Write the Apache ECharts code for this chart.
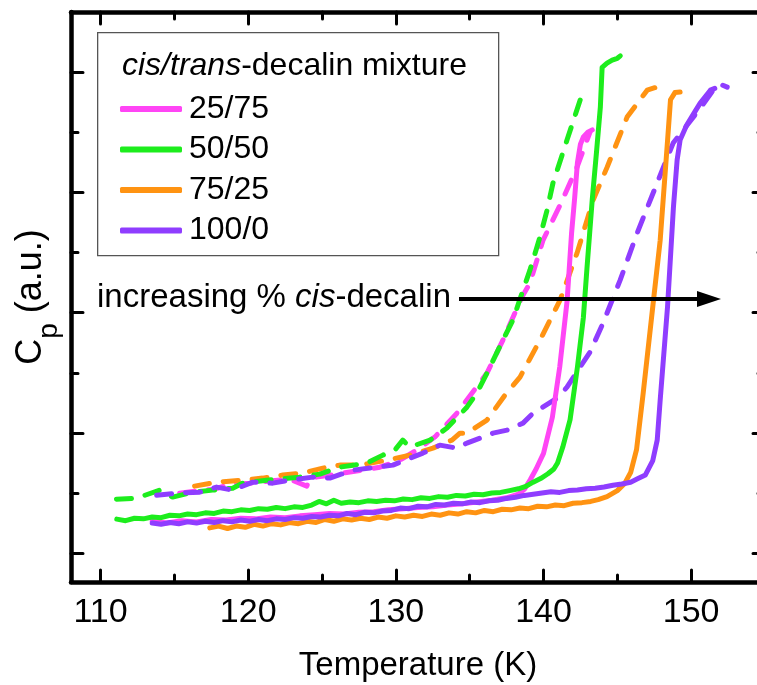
<!DOCTYPE html>
<html>
<head>
<meta charset="utf-8">
<script src="https://cdn.jsdelivr.net/npm/echarts@6/dist/echarts.min.js"></script>
<style>html,body{margin:0;padding:0;background:#fff}#c{width:757px;height:685px}</style>
</head>
<body>
<div id="c"></div>
<script>
// ---- data (T in K, Cp in arbitrary units) ----
var mixtures = ['25/75', '50/50', '75/25', '100/0'];
var colors = ['#ff45f5', '#1ded1d', '#ff9312', '#8f3dff'];
var xMajorTicks = [110, 120, 130, 140, 150];
var xMinorTicks = [115, 125, 135, 145];
var yMajorTicks = [1, 2, 3, 4, 5];
var yMinorTicks = [1.5, 2.5, 3.5, 4.5];

// solid curves
var heat2575 = [[113.5,1.265],[114.5,1.25],[115.5,1.27],[116.5,1.26],[117.5,1.28],[118.5,1.275],[119.5,1.29],[120.5,1.285],[121.5,1.30],[122.5,1.295],[123.5,1.31],[124.5,1.32],[125.5,1.33],[126.5,1.325],[127.5,1.34],[128.5,1.345],[129.5,1.36],[130.5,1.37],[131.5,1.38],[132.5,1.385],[133.5,1.40],[134.5,1.41],[135.5,1.425],[136.5,1.44],[137.5,1.46],[138.3,1.49],[138.7,1.53],[139.1,1.61],[139.5,1.70],[140.0,1.83],[140.6,2.13],[141.1,2.55],[141.6,3.10],[141.9,3.66],[142.1,3.94],[142.3,4.25],[142.5,4.40],[142.7,4.46],[143.0,4.50],[143.3,4.52]];
var heat5050 = [[111.1,1.283],[111.7,1.27],[112.3,1.29],[112.9,1.285],[113.5,1.30],[114.1,1.295],[114.7,1.315],[115.3,1.31],[115.9,1.325],[116.5,1.32],[117.1,1.335],[117.7,1.33],[118.3,1.35],[118.9,1.345],[119.5,1.36],[120.1,1.355],[120.7,1.37],[121.3,1.365],[121.9,1.38],[122.5,1.37],[123.1,1.385],[123.7,1.38],[124.3,1.40],[124.8,1.43],[125.3,1.41],[125.8,1.44],[126.3,1.415],[126.9,1.425],[127.5,1.42],[128.1,1.435],[128.7,1.43],[129.3,1.44],[129.9,1.435],[130.5,1.45],[131.1,1.445],[131.7,1.46],[132.3,1.455],[132.9,1.47],[133.5,1.465],[134.1,1.48],[134.7,1.475],[135.3,1.49],[135.9,1.485],[136.5,1.50],[137.1,1.505],[137.7,1.52],[138.3,1.535],[138.8,1.555],[139.3,1.59],[139.8,1.62],[140.3,1.66],[140.7,1.70],[140.95,1.75],[141.3,1.88],[141.8,2.11],[142.3,2.55],[142.7,2.96],[142.95,3.38],[143.3,3.94],[143.6,4.35],[143.85,4.71],[143.97,5.04],[144.3,5.075],[144.65,5.10],[145.0,5.115],[145.2,5.135]];
var heat7525 = [[117.4,1.21],[118.0,1.225],[118.6,1.205],[119.2,1.225],[119.8,1.215],[120.4,1.24],[121.0,1.225],[121.6,1.245],[122.2,1.235],[122.8,1.255],[123.4,1.245],[124.0,1.265],[124.6,1.255],[125.2,1.28],[125.8,1.265],[126.4,1.285],[127.0,1.275],[127.6,1.29],[128.2,1.28],[128.8,1.30],[129.4,1.29],[130.0,1.31],[130.6,1.30],[131.2,1.315],[131.8,1.305],[132.4,1.325],[133.0,1.315],[133.6,1.335],[134.2,1.325],[134.8,1.345],[135.4,1.335],[136.0,1.355],[136.6,1.345],[137.2,1.365],[137.8,1.36],[138.4,1.375],[139.0,1.37],[139.6,1.39],[140.2,1.385],[140.8,1.40],[141.4,1.395],[142.0,1.415],[142.6,1.42],[143.2,1.43],[143.7,1.445],[144.3,1.47],[145.0,1.52],[145.5,1.58],[145.9,1.67],[146.3,1.86],[146.75,2.33],[147.4,3.05],[147.9,3.60],[148.4,4.43],[148.6,4.77],[148.9,4.83],[149.25,4.835]];
var heat1000 = [[113.5,1.25],[114.1,1.24],[114.7,1.255],[115.3,1.245],[115.9,1.26],[116.5,1.25],[117.1,1.265],[117.7,1.255],[118.3,1.27],[118.9,1.26],[119.5,1.275],[120.1,1.265],[120.7,1.28],[121.3,1.27],[121.9,1.285],[122.5,1.28],[123.1,1.295],[123.7,1.29],[124.3,1.305],[124.9,1.30],[125.5,1.315],[126.1,1.31],[126.7,1.33],[127.3,1.32],[127.9,1.34],[128.5,1.335],[129.1,1.35],[129.7,1.355],[130.3,1.375],[130.9,1.37],[131.5,1.39],[132.1,1.385],[132.7,1.405],[133.3,1.40],[133.9,1.415],[134.5,1.41],[135.1,1.425],[135.7,1.42],[136.3,1.435],[136.9,1.44],[137.5,1.455],[138.1,1.465],[138.7,1.48],[139.3,1.49],[139.9,1.50],[140.5,1.51],[141.1,1.505],[141.7,1.52],[142.3,1.525],[142.9,1.535],[143.5,1.54],[144.1,1.55],[144.7,1.565],[145.3,1.575],[145.9,1.59],[146.4,1.62],[146.9,1.65],[147.4,1.77],[147.7,1.94],[147.9,2.27],[148.4,3.05],[148.8,3.88],[149.05,4.27],[149.25,4.435],[149.7,4.56],[150.1,4.64],[150.6,4.74],[151.3,4.85],[151.6,4.865]];

// dashed curves
var cool2575 = [[115.36,1.499],[116.51,1.516],[117.73,1.532],[118.75,1.574],[120.1,1.582],[121.46,1.599],[122.81,1.615],[123.97,1.557],[124.17,1.624],[126.41,1.665],[128.92,1.715],[130.27,1.773],[131.42,1.857],[132.64,1.965],[134.14,2.164],[136.17,2.497],[137.25,2.771],[138.54,3.129],[139.08,3.245],[139.97,3.603],[141.12,3.894],[142.27,4.21],[143.15,4.501]];
var cool5050 = [[111.08,1.449],[112.44,1.457],[114.0,1.524],[114.88,1.466],[116.24,1.507],[117.59,1.524],[118.95,1.54],[119.63,1.582],[121.25,1.607],[123.49,1.632],[124.85,1.657],[126.2,1.715],[128.03,1.748],[129.12,1.815],[129.93,1.857],[130.47,1.94],[130.95,1.882],[132.31,1.94],[133.46,2.04],[134.81,2.214],[135.49,2.331],[136.37,2.547],[137.25,2.771],[137.93,2.938],[138.61,3.187],[139.08,3.353],[139.76,3.628],[140.24,3.852],[140.64,4.077],[141.59,4.435],[142.14,4.64],[142.75,4.867]];
var cool7525 = [[116.37,1.557],[117.86,1.59],[119.63,1.607],[120.98,1.624],[122.34,1.649],[123.69,1.665],[125.05,1.707],[126.2,1.732],[127.56,1.732],[129.39,1.773],[130.95,1.815],[132.51,1.873],[133.8,1.94],[134.34,1.998],[134.81,1.998],[136.17,2.106],[137.39,2.314],[138.41,2.464],[139.76,2.771],[141.12,3.104],[142.27,3.495],[143.36,3.936],[144.31,4.21],[145.66,4.626],[147.02,4.85],[148.1,4.892]];
var cool1000 = [[113.8,1.482],[115.15,1.499],[116.71,1.507],[117.86,1.549],[118.95,1.524],[120.31,1.59],[121.66,1.582],[122.81,1.607],[124.37,1.632],[125.53,1.624],[127.08,1.69],[129.8,1.732],[131.83,1.832],[132.98,1.898],[134.14,1.873],[134.81,1.915],[136.58,1.998],[137.53,2.023],[138.61,2.081],[139.29,2.164],[140.92,2.289],[141.59,2.38],[142.47,2.547],[143.15,2.672],[144.03,2.913],[145.19,3.27],[146.34,3.661],[147.69,4.077],[148.78,4.41],[149.73,4.56],[150.61,4.70],[151.49,4.85],[151.97,4.90],[152.44,4.875]];

var heating = [heat2575, heat5050, heat7525, heat1000];
var cooling = [cool2575, cool5050, cool7525, cool1000];

// ---- chart ----
var FONT = '"Liberation Sans", Arial, sans-serif';
var chart = echarts.init(document.getElementById('c'), null, {renderer: 'canvas'});

var series = [];
var drawOrder = [0, 2, 1, 3];
drawOrder.forEach(function (i) {
  series.push({
    name: mixtures[i] + ' cooling', type: 'line', data: cooling[i],
    xAxisIndex: 0, yAxisIndex: 0, showSymbol: false, silent: true,
    lineStyle: {color: colors[i], width: 5, type: [15, 14], cap: 'round', join: 'round'},
    itemStyle: {color: colors[i]}, z: 2
  });
});
drawOrder.forEach(function (i) {
  series.push({
    name: mixtures[i], type: 'line', data: heating[i],
    xAxisIndex: 0, yAxisIndex: 0, showSymbol: false, silent: true,
    lineStyle: {color: colors[i], width: 5, cap: 'round', join: 'round'},
    itemStyle: {color: colors[i]}, z: 3
  });
});

function xAx(pos, vals, len, showLine, labels) {
  return {
    type: 'value', position: pos, min: 108, max: 155, offset: 0,
    axisLine: {show: showLine, onZero: false, lineStyle: {color: '#000', width: 4.5, cap: 'round'}},
    axisTick: {show: true, inside: true, length: len, customValues: vals, lineStyle: {color: '#000', width: 3, cap: 'round'}},
    axisLabel: labels ? {show: true, customValues: vals, fontSize: 34, color: '#000', fontFamily: FONT, margin: 14} : {show: false},
    splitLine: {show: false}
  };
}
function yAx(pos, vals, len, showLine) {
  return {
    type: 'value', position: pos, min: 0.76, max: 5.5, offset: 0,
    axisLine: {show: showLine, onZero: false, lineStyle: {color: '#000', width: 4.5, cap: 'round'}},
    axisTick: {show: true, inside: true, length: len, customValues: vals, lineStyle: {color: '#000', width: 3, cap: 'round'}},
    axisLabel: {show: false},
    splitLine: {show: false}
  };
}

var xAxes = [
  xAx('bottom', xMajorTicks, 12, true, true),
  xAx('bottom', xMinorTicks, 7, false, false),
  xAx('top', xMajorTicks, 12, true, false),
  xAx('top', xMinorTicks, 7, false, false)
];
xAxes[0].name = 'Temperature (K)';
xAxes[0].nameLocation = 'middle';
xAxes[0].nameGap = 67;
xAxes[0].nameTextStyle = {fontSize: 33, color: '#000', fontFamily: FONT};

var yAxes = [
  yAx('left', yMajorTicks, 12, true),
  yAx('left', yMinorTicks, 7, false),
  yAx('right', yMajorTicks, 12, true),
  yAx('right', yMinorTicks, 7, false)
];
yAxes[0].name = '{c|C}{p|p}{c| (a.u.)}';
yAxes[0].nameLocation = 'middle';
yAxes[0].nameGap = 8;
yAxes[0].nameTextStyle = {
  color: '#000', fontFamily: FONT,
  rich: {
    c: {fontSize: 36, lineHeight: 40, verticalAlign: 'top', color: '#000', fontFamily: FONT},
    p: {fontSize: 28, lineHeight: 50, verticalAlign: 'bottom', color: '#000', fontFamily: FONT}
  }
};

chart.setOption({
  animation: false,
  backgroundColor: '#fff',
  grid: {left: 71, right: -8, top: 12, bottom: 103, containLabel: false, outerBoundsMode: 'none'},
  xAxis: xAxes,
  yAxis: yAxes,
  legend: {
    data: mixtures, orient: 'vertical', left: 120, top: 91, padding: 0,
    itemWidth: 62, itemHeight: 6, itemGap: 4.5, icon: 'roundRect',
    selectedMode: false,
    textStyle: {fontSize: 32, lineHeight: 36, color: '#000', fontFamily: FONT, padding: [0, 0, 0, 2]}
  },
  graphic: [
    {type: 'rect', left: 97, top: 32, shape: {x: 0, y: 0, width: 401, height: 223},
     style: {fill: 'transparent', stroke: '#555', lineWidth: 1.3}, silent: true, z: 10},
    {type: 'text', left: 122, top: 50, silent: true, z: 11,
     style: {text: '{i|cis/trans}-decalin mixture', fontSize: 32, fontFamily: FONT, fill: '#000',
       rich: {i: {fontStyle: 'italic', fontSize: 32, fontFamily: FONT, fill: '#000'}}}},
    {type: 'text', left: 97, top: 281, silent: true, z: 11,
     style: {text: 'increasing % {i|cis}-decalin', fontSize: 33, fontFamily: FONT, fill: '#000',
       rich: {i: {fontStyle: 'italic', fontSize: 33, fontFamily: FONT, fill: '#000'}}}},
    {type: 'line', silent: true, z: 11, shape: {x1: 459, y1: 299, x2: 702, y2: 299},
     style: {stroke: '#000', lineWidth: 4}},
    {type: 'polygon', silent: true, z: 11, shape: {points: [[697, 291], [721, 299], [697, 307]]},
     style: {fill: '#000'}}
  ],
  series: series
});
</script>
</body>
</html>
